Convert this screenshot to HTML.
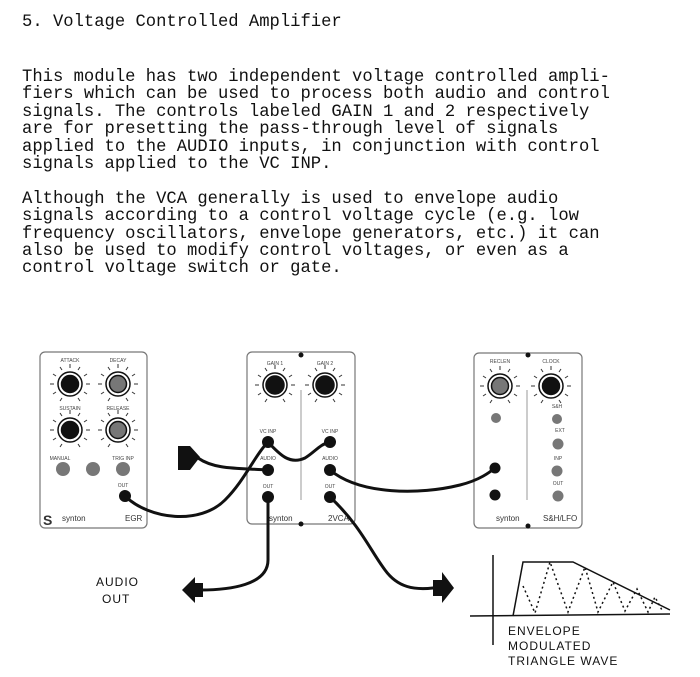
<!DOCTYPE html>
<html><head><meta charset="utf-8"><style>
html,body{margin:0;padding:0;background:#fff;}
body{width:700px;height:677px;position:relative;overflow:hidden;}
pre{position:absolute;left:22px;margin:0;font-family:"Liberation Mono",monospace;font-size:17.2px;line-height:17.4px;color:#111;}
svg{position:absolute;left:0;top:0;}
</style></head><body>
<pre style="top:14px">5. Voltage Controlled Amplifier</pre>
<pre style="top:69px">This module has two independent voltage controlled ampli-
fiers which can be used to process both audio and control
signals. The controls labeled GAIN 1 and 2 respectively
are for presetting the pass-through level of signals
applied to the AUDIO inputs, in conjunction with control
signals applied to the VC INP.

Although the VCA generally is used to envelope audio
signals according to a control voltage cycle (e.g. low
frequency oscillators, envelope generators, etc.) it can
also be used to modify control voltages, or even as a
control voltage switch or gate.</pre>
<svg width="700" height="677" viewBox="0 0 700 677" font-family="Liberation Sans, sans-serif">
<defs>
<g id="ticks" stroke="#333" stroke-width="1">
<line x1="0" y1="-16" x2="0" y2="-20"/><line x1="8" y1="-14" x2="10" y2="-17"/><line x1="-8" y1="-14" x2="-10" y2="-17"/>
<line x1="14" y1="-8" x2="17" y2="-10"/><line x1="-14" y1="-8" x2="-17" y2="-10"/>
<line x1="16" y1="0" x2="20" y2="0"/><line x1="-16" y1="0" x2="-20" y2="0"/>
<line x1="14" y1="8" x2="17" y2="10"/><line x1="-14" y1="8" x2="-17" y2="10"/>
<line x1="8" y1="14" x2="10" y2="17"/><line x1="-8" y1="14" x2="-10" y2="17"/>
</g>
</defs>
<g fill="none" stroke="#777" stroke-width="1.2">
<rect x="40" y="352" width="107" height="176" rx="5"/>
<rect x="247" y="352" width="108" height="172" rx="5"/>
<rect x="474" y="353" width="108" height="175" rx="5"/>
<line x1="301" y1="390" x2="301" y2="500" stroke="#aaa"/>
<line x1="527" y1="390" x2="527" y2="500" stroke="#aaa"/>
</g>
<g font-size="5" fill="#444" text-anchor="middle">
<text x="70" y="362">ATTACK</text><text x="118" y="362">DECAY</text>
<text x="70" y="410">SUSTAIN</text><text x="118" y="410">RELEASE</text>
<text x="60" y="460">MANUAL</text><text x="123" y="460">TRIG INP</text>
<text x="123" y="487">OUT</text>
<text x="275" y="365">GAIN 1</text><text x="325" y="365">GAIN 2</text>
<text x="268" y="433">VC INP</text><text x="330" y="433">VC INP</text>
<text x="268" y="460">AUDIO</text><text x="330" y="460">AUDIO</text>
<text x="268" y="488">OUT</text><text x="330" y="488">OUT</text>
<text x="500" y="363">RECLEN</text><text x="551" y="363">CLOCK</text>
<text x="557" y="408">S&amp;H</text><text x="560" y="432">EXT</text><text x="558" y="460">INP</text><text x="558" y="485">OUT</text>
</g>
<g font-size="8" fill="#333">
<text x="62" y="521">synton</text><text x="125" y="521">EGR</text>
<text x="269" y="521">synton</text><text x="328" y="521">2VCA</text>
<text x="496" y="521">synton</text><text x="543" y="521">S&amp;H/LFO</text>
<text x="43" y="525" font-size="14" font-weight="bold">S</text>
</g>
<g>
<use href="#ticks" x="70" y="384"/><use href="#ticks" x="118" y="384"/>
<use href="#ticks" x="70" y="430"/><use href="#ticks" x="118" y="430"/>
<use href="#ticks" x="275" y="385"/><use href="#ticks" x="325" y="385"/>
<use href="#ticks" x="500" y="386"/><use href="#ticks" x="551" y="386"/>
</g>
<g stroke="#111" stroke-width="1.5">
<circle cx="70" cy="384" r="12" fill="#fff"/><circle cx="70" cy="384" r="8.5" fill="#111"/>
<circle cx="118" cy="384" r="12" fill="#fff"/><circle cx="118" cy="384" r="8.5" fill="#777"/>
<circle cx="70" cy="430" r="12" fill="#fff"/><circle cx="70" cy="430" r="8.5" fill="#111"/>
<circle cx="118" cy="430" r="12" fill="#fff"/><circle cx="118" cy="430" r="8.5" fill="#777"/>
<circle cx="275" cy="385" r="12" fill="#fff"/><circle cx="275" cy="385" r="9" fill="#111"/>
<circle cx="325" cy="385" r="12" fill="#fff"/><circle cx="325" cy="385" r="9" fill="#111"/>
<circle cx="500" cy="386" r="12" fill="#fff"/><circle cx="500" cy="386" r="8.5" fill="#777"/>
<circle cx="551" cy="386" r="12" fill="#fff"/><circle cx="551" cy="386" r="8.5" fill="#111"/>
</g>
<g fill="#777">
<circle cx="63" cy="469" r="7"/><circle cx="93" cy="469" r="7"/><circle cx="123" cy="469" r="7"/>
<circle cx="496" cy="418" r="5"/><circle cx="557" cy="419" r="5"/><circle cx="558" cy="444" r="5.5"/>
<circle cx="557" cy="471" r="5.5"/><circle cx="558" cy="496" r="5.5"/>
</g>
<g fill="#111">
<circle cx="125" cy="496" r="6"/>
<circle cx="268" cy="442" r="6"/><circle cx="330" cy="442" r="6"/>
<circle cx="268" cy="470" r="6"/><circle cx="330" cy="470" r="6"/>
<circle cx="268" cy="497" r="6"/><circle cx="330" cy="497" r="6"/>
<circle cx="495" cy="468" r="5.5"/><circle cx="495" cy="495" r="5.5"/>
<circle cx="301" cy="355" r="2.5"/><circle cx="301" cy="524" r="2.5"/>
<circle cx="528" cy="355" r="2.5"/><circle cx="528" cy="526" r="2.5"/>
<path d="M178 446 L190 446 L200 457 L190 470 L178 470 Z"/>
<path d="M182 590 L195 577 L195 583 L203 583 L203 597 L195 597 L195 603 Z"/>
<path d="M454 588 L442 572 L442 580 L433 580 L433 596 L442 596 L442 603 Z"/>
</g>
<g fill="none" stroke="#111" stroke-width="3" stroke-linecap="round">
<path d="M198 458 C215 470, 240 468, 268 470"/>
<path d="M125 496 C150 520, 200 525, 225 500 C245 480, 255 455, 268 442"/>
<path d="M268 442 C280 455, 290 465, 305 458 C315 452, 320 444, 330 442"/>
<path d="M330 470 C360 495, 420 495, 460 485 C480 480, 490 472, 495 468"/>
<path d="M268 497 L268 560 C268 585, 230 590, 200 590"/>
<path d="M330 497 C360 525, 370 550, 385 570 C398 588, 415 590, 433 588"/>
</g>
<g fill="none" stroke="#111" stroke-width="1.5">
<line x1="493" y1="555" x2="493" y2="645"/>
<line x1="470" y1="616" x2="670" y2="614"/>
<path d="M513 616 L523 562 L573 562 L670 610"/>
</g>
<path d="M523 586 L535 613 L550 562 L568 612 L585 567 L598 612 L613 582 L625 611 L637 589 L648 612 L655 597 L663 612" fill="none" stroke="#111" stroke-width="1.5" stroke-dasharray="2,3"/>
<g font-family="Liberation Sans, sans-serif" font-size="12" fill="#111" letter-spacing="1">
<text x="508" y="635">ENVELOPE</text>
<text x="508" y="650">MODULATED</text>
<text x="508" y="665">TRIANGLE WAVE</text>
<text x="96" y="586">AUDIO</text>
<text x="102" y="603">OUT</text>
</g>
</svg>
</body></html>
